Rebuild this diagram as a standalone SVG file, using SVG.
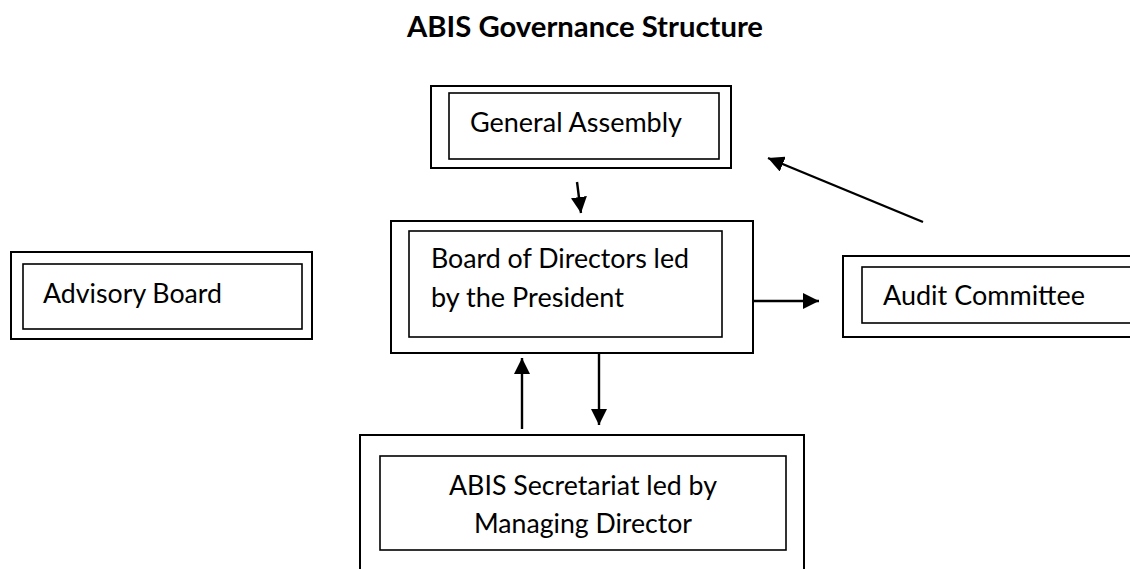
<svg xmlns="http://www.w3.org/2000/svg" width="1130" height="569" viewBox="0 0 1130 569">
<style>
.bg{fill:#ffffff}
.outer{fill:none;stroke:#000;stroke-width:2}
.inner{fill:none;stroke:#000;stroke-width:1.6}
.lbl{font-family:Lato,"Open Sans","Liberation Sans",sans-serif;font-size:26px;fill:#000}
.title{font-family:Lato,"Open Sans","Liberation Sans",sans-serif;font-size:28px;font-weight:bold;fill:#000}
.conn{fill:none;stroke:#000;stroke-width:2.4;marker-end:url(#arrow)}
</style>
<defs>
<marker id="arrow" markerUnits="userSpaceOnUse" markerWidth="16" markerHeight="16" viewBox="0 0 16 16" refX="16" refY="8" orient="auto">
<path d="M0,0 L16,8 L0,16 z" fill="#000"/>
</marker>
</defs>
<rect class="bg" x="0" y="0" width="1130" height="569"/>
<text class="title" x="407" y="37" textLength="356" lengthAdjust="spacingAndGlyphs">ABIS Governance Structure</text>

<g id="general-assembly">
<rect class="outer" x="431" y="86" width="300" height="82"/>
<rect class="inner" x="449" y="93" width="270" height="66"/>
<text class="lbl" x="470" y="132" textLength="212" lengthAdjust="spacingAndGlyphs">General Assembly</text>
</g>

<g id="board">
<rect class="outer" x="391" y="221" width="362" height="132"/>
<rect class="inner" x="409" y="231" width="313" height="106"/>
<text class="lbl" x="431" y="268" textLength="258" lengthAdjust="spacingAndGlyphs">Board of Directors led</text>
<text class="lbl" x="431" y="307" textLength="193" lengthAdjust="spacingAndGlyphs">by the President</text>
</g>

<g id="advisory-board">
<rect class="outer" x="11" y="252" width="301" height="87" stroke-width="1.5"/>
<rect class="inner" x="23" y="264" width="279" height="65"/>
<text class="lbl" x="43" y="303" textLength="179" lengthAdjust="spacingAndGlyphs">Advisory Board</text>
</g>

<g id="audit-committee">
<rect class="outer" x="843" y="256" width="300" height="81"/>
<rect class="inner" x="862" y="267" width="280" height="56"/>
<text class="lbl" x="883" y="305" textLength="202" lengthAdjust="spacingAndGlyphs">Audit Committee</text>
</g>

<g id="secretariat">
<rect class="outer" x="360" y="435" width="444" height="150" stroke-width="1.6"/>
<rect class="inner" x="380" y="456" width="406" height="94"/>
<text class="lbl" x="449" y="495" textLength="268" lengthAdjust="spacingAndGlyphs">ABIS Secretariat led by</text>
<text class="lbl" x="474" y="533" textLength="218" lengthAdjust="spacingAndGlyphs">Managing Director</text>
</g>

<g id="connectors">
<line class="conn" x1="577" y1="182" x2="581" y2="213"/>
<line class="conn" x1="753" y1="301" x2="819" y2="301"/>
<line class="conn" x1="923" y1="222" x2="768" y2="158"/>
<line class="conn" x1="599" y1="353" x2="599" y2="425"/>
<line class="conn" x1="522" y1="429" x2="522" y2="358"/>
</g>
</svg>
